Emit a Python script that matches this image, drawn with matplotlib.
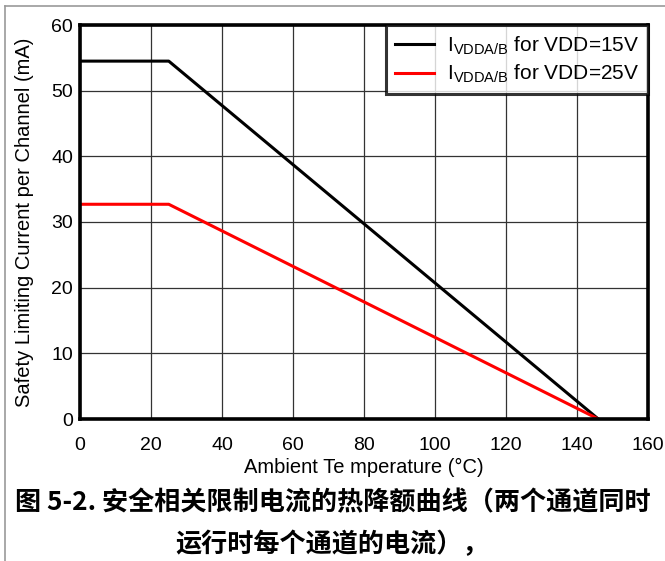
import matplotlib
matplotlib.use("Agg")
import matplotlib.pyplot as plt
from matplotlib.lines import Line2D

plt.rcParams['font.family'] = ['Liberation Sans', 'DejaVu Sans']

temp_15v = [0, 25, 146]
cur_15v = [54.5, 54.5, 0]
temp_25v = [0, 25, 146]
cur_25v = [32.7, 32.7, 0]
xticks = [0, 20, 40, 60, 80, 100, 120, 140, 160]
yticks = [0, 10, 20, 30, 40, 50, 60]
label_15v = r'I$_{\mathregular{VDDA/B}}$ for VDD=15V'
label_25v = r'I$_{\mathregular{VDDA/B}}$ for VDD=25V'
caption_1 = "图 5-2. 安全相关限制电流的热降额曲线（两个通道同时"
caption_2 = "运行时每个通道的电流），"

fig = plt.figure(figsize=(6.65, 5.61), dpi=100)
ax = fig.add_axes([80/665, 1-419/561, (648-80)/665, (419-25)/561])

ax.plot(temp_15v, cur_15v, color='black', lw=2.2, label=label_15v)
ax.plot(temp_25v, cur_25v, color='#ff0000', lw=2.2, label=label_25v)

ax.set_xlim(0, 160)
ax.set_ylim(0, 60)
ax.set_xticks(xticks)
ax.set_yticks(yticks)
ax.grid(True, color='#333333', lw=0.9)
ax.set_axisbelow(True)
ax.tick_params(length=0, labelsize=14)
ax.tick_params(axis='x', pad=13)
ax.tick_params(axis='y', pad=5)
for s in ax.spines.values():
    s.set_linewidth(2.6)
ax.set_xlabel('Ambient Te mperature (°C)', fontsize=14.5)
ax.set_ylabel('Safety Limiting Current per Channel (mA)', fontsize=14.5)
ax.xaxis.set_label_coords(0.5, -(467-419)/394, transform=ax.transAxes)
ax.yaxis.set_label_coords(-(80-24)/568, 0.5, transform=ax.transAxes)
ax.xaxis.label.set_va('center')
ax.yaxis.label.set_va('center')

leg = ax.legend(loc='upper right', fontsize=15, frameon=True, fancybox=False,
                borderaxespad=0, handlelength=1.9, handletextpad=0.6,
                labelspacing=0.3, borderpad=0.43)
leg.get_frame().set_edgecolor('black')
leg.get_frame().set_linewidth(2.2)

cjk = ['Noto Sans CJK SC', 'DejaVu Sans']
fig.text(0.5, 1-503/561, caption_1, ha='center', va='center', fontsize=18.8,
         fontweight='bold', family=cjk)
fig.text(0.5, 1-545/561, caption_2, ha='center', va='center', fontsize=18.8,
         fontweight='bold', family=cjk)

# figure border lines (top and left)
fig.add_artist(Line2D([5/665, 1], [1-6/561, 1-6/561], color='#999999', lw=1.2, transform=fig.transFigure))
fig.add_artist(Line2D([5/665, 5/665], [0, 1-6/561], color='#999999', lw=1.2, transform=fig.transFigure))

fig.savefig('out.png', dpi=100)
